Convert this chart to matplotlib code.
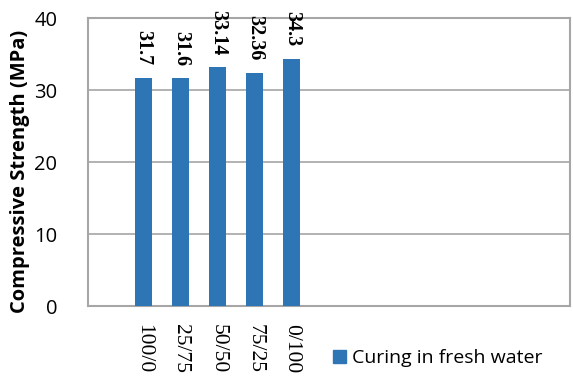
import matplotlib
matplotlib.use("Agg")
import matplotlib.pyplot as plt
from matplotlib.patches import Patch

categories = ["100/0", "25/75", "50/50", "75/25", "0/100"]
values = [31.7, 31.6, 33.14, 32.36, 34.3]
labels = ["31.7", "31.6", "33.14", "32.36", "34.3"]
series_name = "Curing in fresh water"
yticks = [0, 10, 20, 30, 40]

W, H = 573, 379
fig = plt.figure(figsize=(W / 100, H / 100), dpi=100)
ax = fig.add_axes([88 / W, 1 - 306 / H, (570 - 88) / W, (306 - 18) / H])

color = "#2E75B6"
grid = "#A6A6A6"
x = list(range(len(categories)))
ax.bar(x, values, width=0.46, color=color, zorder=3)
ax.set_xlim(-1.5, 11.5)
ax.set_ylim(0, 40)
ax.set_yticks(yticks)
ax.yaxis.grid(True, color=grid, linewidth=1.2, zorder=0)
for s in ax.spines.values():
    s.set_color(grid)
    s.set_linewidth(1.5)
ax.tick_params(axis="y", length=0, pad=22, labelsize=14.5)
for t in ax.get_yticklabels():
    t.set_family("Open Sans")
ax.set_xticks(x)
ax.set_xticklabels(categories, rotation=-90, family="Liberation Serif", fontsize=15.5, va="top")
ax.tick_params(axis="x", length=0, pad=13)

for xi, v, lab in zip(x, values, labels):
    ax.annotate(lab, (xi, v), xytext=(0, 9), textcoords="offset points",
                rotation=-90, ha="center", va="bottom",
                family="Liberation Serif", fontweight="bold", fontsize=14.5,
                annotation_clip=False)

fig.text(20 / W, 1 - 171 / H, "Compressive Strength (MPa)", rotation=90,
         ha="center", va="center", fontweight="bold", fontsize=14.5, family="Open Sans")

fig.legend(handles=[Patch(color=color, label=series_name)],
           loc="center left", bbox_to_anchor=(333 / W, 1 - 358 / H),
           frameon=False, prop={"family": "Open Sans", "size": 14},
           handlelength=0.65, handleheight=0.65, handletextpad=0.35, borderpad=0,
           borderaxespad=0)

fig.savefig("out.png", dpi=100)
